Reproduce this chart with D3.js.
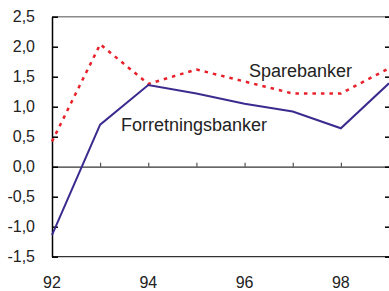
<!DOCTYPE html>
<html>
<head>
<meta charset="utf-8">
<script src="https://cdn.jsdelivr.net/npm/d3@7"></script>
<style>
  body { margin: 0; background: #fff; }
  svg { display: block; font-family: "Liberation Sans", Arial, sans-serif; }
</style>
</head>
<body>
<div id="chart"></div>
<script>
// chart size
var width = 389;
var height = 291;
var margin = { top: 16.7, right: 0, bottom: 34.3, left: 52 };

// data
const years = [92, 93, 94, 95, 96, 97, 98, 99];
const forretningsbanker = [-1.14, 0.7, 1.36, 1.22, 1.05, 0.92, 0.64, 1.39];
const sparebanker = [0.42, 2.04, 1.38, 1.62, 1.42, 1.22, 1.22, 1.64];
const yTicks = [2.5, 2.0, 1.5, 1.0, 0.5, 0.0, -0.5, -1.0, -1.5];
const xLabels = [92, 94, 96, 98];

let svg = d3.select("#chart")
  .append("svg")
  .attr("width", width)
  .attr("height", height);

let x = d3.scaleLinear().domain([92, 99]).range([margin.left, width - margin.right]);
let y = d3.scaleLinear().domain([-1.5, 2.5]).range([height - margin.bottom, margin.top]);

let fmt = d => d3.format(".1f")(d).replace(".", ",").replace("−", "-");

// top border (grey)
svg.append("line")
  .attr("x1", x(92)).attr("x2", x(99))
  .attr("y1", y(2.5)).attr("y2", y(2.5))
  .style("stroke", "#8a8a8a")
  .style("stroke-width", 1.5);

// bottom line
svg.append("line")
  .attr("x1", x(92)).attr("x2", x(99))
  .attr("y1", y(-1.5)).attr("y2", y(-1.5))
  .style("stroke", "#333")
  .style("stroke-width", 1.2);

// zero line with year ticks
svg.append("g")
  .attr("transform", "translate(0," + y(0) + ")")
  .call(d3.axisTop(x).tickValues(years).tickSize(4).tickFormat("").tickSizeOuter(0))
  .call(g => g.select(".domain").attr("stroke", "#333").attr("stroke-width", 1.2))
  .call(g => g.selectAll(".tick line").attr("stroke", "#333"));

// left axis
svg.append("g")
  .attr("transform", "translate(" + x(92) + ",0)")
  .call(d3.axisRight(y).tickValues(yTicks).tickSize(6).tickFormat("").tickSizeOuter(0))
  .call(g => g.select(".domain").attr("stroke", "#000").attr("stroke-width", 1.5))
  .call(g => g.selectAll(".tick line").attr("stroke", "#000").attr("stroke-width", 1.5));

// right axis ticks
svg.append("g")
  .attr("transform", "translate(" + x(99) + ",0)")
  .call(d3.axisLeft(y).tickValues(yTicks).tickSize(4).tickFormat("").tickSizeOuter(0))
  .call(g => g.selectAll(".tick line").attr("stroke", "#000").attr("stroke-width", 1.5));

// y labels
svg.selectAll(".ylab")
  .data(yTicks)
  .enter()
  .append("text")
  .attr("class", "ylab")
  .attr("x", 35)
  .attr("y", d => y(d))
  .attr("dy", "0.36em")
  .attr("text-anchor", "end")
  .style("font-size", "16px")
  .style("fill", "#222")
  .text(fmt);

// x labels
svg.selectAll(".xlab")
  .data(xLabels)
  .enter()
  .append("text")
  .attr("class", "xlab")
  .attr("x", d => x(d))
  .attr("y", 288)
  .attr("text-anchor", "middle")
  .style("font-size", "16px")
  .style("fill", "#222")
  .text(d => d);

let line = d3.line()
  .x((d, i) => x(years[i]))
  .y(d => y(d));

svg.append("path")
  .datum(sparebanker)
  .attr("d", line)
  .style("fill", "none")
  .style("stroke", "#e8202a")
  .style("stroke-width", 2.5)
  .style("stroke-dasharray", "3.5,5");

svg.append("path")
  .datum(forretningsbanker)
  .attr("d", line)
  .style("fill", "none")
  .style("stroke", "#3c2a8e")
  .style("stroke-width", 2);

// series labels
svg.append("text")
  .attr("x", 249)
  .attr("y", 77)
  .style("font-size", "18px")
  .style("fill", "#222")
  .text("Sparebanker");

svg.append("text")
  .attr("x", 121)
  .attr("y", 131)
  .style("font-size", "18px")
  .style("fill", "#222")
  .text("Forretningsbanker");
</script>
</body>
</html>
